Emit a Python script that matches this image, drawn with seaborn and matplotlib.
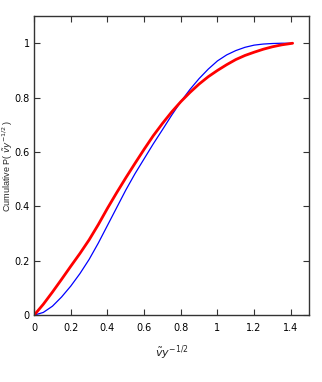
import numpy as np
import pandas as pd
import seaborn as sns
import matplotlib.pyplot as plt

# values
x_blue = [0.0, 0.05, 0.1, 0.15, 0.2, 0.25, 0.3, 0.35, 0.4, 0.45, 0.5, 0.55, 0.6, 0.65,
          0.7, 0.75, 0.8, 0.85, 0.9, 0.95, 1.0, 1.05, 1.1, 1.15, 1.2, 1.25, 1.3, 1.35, 1.41]
y_blue = [0.0, 0.01, 0.033, 0.067, 0.107, 0.153, 0.205, 0.265, 0.33, 0.395, 0.46, 0.52, 0.575, 0.63,
          0.682, 0.735, 0.785, 0.83, 0.87, 0.905, 0.935, 0.957, 0.973, 0.985, 0.993, 0.997, 0.999, 1.0, 1.0]

x_red = [0.0, 0.05, 0.1, 0.15, 0.2, 0.25, 0.3, 0.35, 0.4, 0.45, 0.5, 0.55, 0.6, 0.65,
         0.7, 0.75, 0.8, 0.85, 0.9, 0.95, 1.0, 1.05, 1.1, 1.15, 1.2, 1.25, 1.3, 1.35, 1.41]
y_red = [0.0, 0.04, 0.085, 0.132, 0.18, 0.227, 0.277, 0.333, 0.393, 0.45, 0.505, 0.558, 0.61, 0.66,
         0.705, 0.747, 0.785, 0.819, 0.85, 0.877, 0.9, 0.921, 0.94, 0.955, 0.967, 0.978, 0.987, 0.994, 1.0]

xticks = [0, 0.2, 0.4, 0.6, 0.8, 1, 1.2, 1.4]
xtick_labels = ["0", "0.2", "0.4", "0.6", "0.8", "1", "1.2", "1.4"]
yticks = [0, 0.2, 0.4, 0.6, 0.8, 1]
ytick_labels = ["0", "0.2", "0.4", "0.6", "0.8", "1"]

sns.set_style("ticks")
plt.rcParams["font.family"] = ["DejaVu Sans"]

df = pd.concat([
    pd.DataFrame({"x": x_blue, "y": y_blue, "s": "blue"}),
    pd.DataFrame({"x": x_red, "y": y_red, "s": "red"}),
])

fig = plt.figure(figsize=(3.22, 3.82), dpi=100)
ax = fig.add_axes([0.106, 0.175, 0.854, 0.783])

sns.lineplot(data=df[df.s == "blue"], x="x", y="y", color="#0000ff", lw=0.9, ax=ax)
sns.lineplot(data=df[df.s == "red"], x="x", y="y", color="#ff0000", lw=2.0, ax=ax)

ax.set_xlim(0, 1.5)
ax.set_ylim(0, 1.1)
ax.set_xticks(xticks)
ax.set_xticklabels(xtick_labels)
ax.set_yticks(yticks)
ax.set_yticklabels(ytick_labels)
ax.tick_params(direction="in", length=4, width=0.8, top=True, right=True,
               labelsize=7, colors="#333333", labelcolor="black", pad=3)
ax.tick_params(axis="x", pad=6)
for sp in ax.spines.values():
    sp.set_visible(True)
    sp.set_color("#333333")
    sp.set_linewidth(1.0)

ax.set_xlabel(r"$\tilde{v}y^{-1/2}$", fontsize=8)
ax.xaxis.set_label_coords(0.5, -0.095)
ax.set_ylabel(r"Cumulative P( $\tilde{v}y^{-1/2}$ )", fontsize=6.5,
              family=["Liberation Sans", "DejaVu Sans"], va="center")
ax.yaxis.set_label_coords(-0.095, 0.5)

fig.savefig("out.png", dpi=100)
